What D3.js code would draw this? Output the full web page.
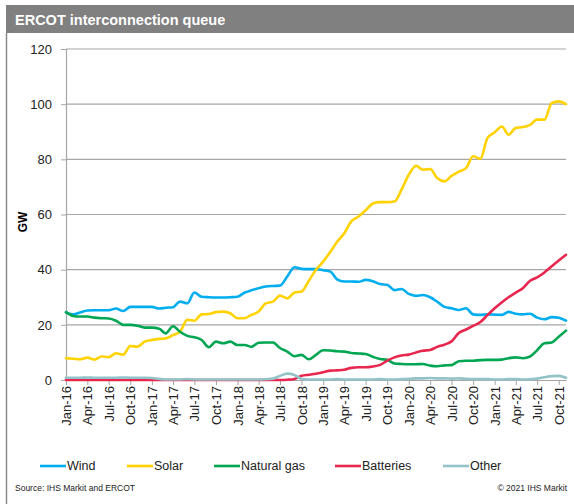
<!DOCTYPE html>
<html>
<head>
<meta charset="utf-8">
<script src="https://cdn.jsdelivr.net/npm/d3@7"></script>
<style>
  body { margin: 0; background: #fff; }
  text { font-family: Arial, 'Liberation Sans', sans-serif; }
</style>
</head>
<body>
<svg width="574" height="504"></svg>
<script>
// monthly values, Jan-16 .. Nov-21 (GW)
const wind = [24.5, 23.8, 24.5, 25.2, 25.3, 25.3, 25.3, 25.9, 25.0, 26.5, 26.5, 26.5,
  26.5, 25.9, 26.2, 26.4, 28.4, 27.8, 31.7, 30.2, 30.0, 29.9, 29.9, 30.0,
  30.2, 31.7, 32.5, 33.3, 33.9, 34.1, 34.2, 37.5, 40.9, 40.3, 40.2, 40.2,
  39.8, 39.3, 36.5, 35.7, 35.7, 35.6, 36.3, 35.8, 34.8, 34.5, 32.6, 33.0,
  31.2, 30.5, 30.8, 30.0, 28.4, 26.5, 26.0, 25.4, 26.0, 23.8, 23.6, 23.8,
  23.7, 23.6, 24.7, 24.0, 23.8, 24.0, 22.6, 22.0, 22.8, 22.6, 21.5];
const solar = [7.9, 7.7, 7.5, 8.1, 7.4, 8.5, 8.3, 9.7, 9.2, 12.3, 12.1, 13.9,
  14.5, 14.9, 15.1, 16.3, 17.5, 21.8, 21.5, 23.8, 23.9, 24.6, 24.8, 24.2,
  22.4, 22.4, 23.6, 24.8, 27.8, 28.4, 30.6, 29.6, 31.7, 32.1, 36.0, 39.9,
  42.9, 46.5, 50.0, 53.2, 57.5, 59.3, 61.5, 64.0, 64.5, 64.5, 64.7, 69.0,
  74.4, 77.7, 76.2, 76.5, 73.2, 72.0, 74.0, 75.5, 76.8, 81.1, 80.2, 87.7,
  89.8, 91.9, 88.9, 91.4, 91.7, 92.5, 94.4, 94.4, 100.4, 101.0, 100.0];
const naturalGas = [24.6, 23.2, 23.0, 23.0, 22.6, 22.4, 22.3, 21.5, 20.0, 20.0, 19.7, 19.0,
  19.0, 18.6, 16.9, 19.5, 17.5, 16.0, 15.5, 14.5, 11.9, 13.9, 13.3, 13.9,
  12.7, 12.7, 12.0, 13.5, 13.6, 13.6, 11.6, 10.3, 8.6, 9.1, 7.5, 9.1,
  10.8, 10.7, 10.4, 10.3, 9.8, 9.6, 9.4, 8.4, 7.6, 7.3, 6.0, 5.8,
  5.7, 5.7, 5.8, 5.2, 5.0, 5.3, 5.4, 6.8, 7.0, 7.0, 7.2, 7.3,
  7.3, 7.4, 7.9, 8.2, 7.9, 8.5, 10.8, 13.3, 13.6, 15.7, 17.9];
const batteries = [0, 0, 0, 0, 0, 0, 0, 0, 0, 0, 0, 0,
  0, 0, 0, 0, 0, 0, 0, 0, 0, 0, 0, 0,
  0, 0, 0, 0, 0, 0, 0, 0.1, 0.4, 1.5, 1.9, 2.3,
  2.8, 3.4, 3.5, 3.7, 4.4, 4.6, 4.6, 4.9, 5.5, 7.0, 8.2, 8.9,
  9.2, 10.0, 10.6, 10.9, 12.0, 12.8, 14.0, 17.0, 18.3, 19.6, 21.0, 23.5,
  26.0, 28.2, 30.0, 31.7, 33.3, 36.0, 37.2, 39.0, 41.2, 43.3, 45.4];
const other = [0.8, 0.8, 0.8, 0.9, 0.8, 0.8, 0.8, 0.8, 0.9, 0.8, 0.8, 0.8,
  0.7, 0.4, 0.2, 0.2, 0.2, 0.3, 0.2, 0.2, 0.2, 0.2, 0.2, 0.2,
  0.2, 0.2, 0.2, 0.2, 0.3, 0.5, 1.5, 2.3, 1.8, 0.4, 0.2, 0.2,
  0.2, 0.2, 0.3, 0.2, 0.2, 0.2, 0.2, 0.2, 0.3, 0.2, 0.2, 0.3,
  0.4, 0.6, 0.6, 0.7, 0.6, 0.6, 0.5, 0.6, 0.4, 0.3, 0.3, 0.3,
  0.2, 0.2, 0.3, 0.3, 0.2, 0.3, 0.5, 1.0, 1.4, 1.5, 0.8];

const seriesNames = ['Wind', 'Solar', 'Natural gas', 'Batteries', 'Other'];
const seriesColors = ['#00aeef', '#ffd200', '#00a651', '#e8274f', '#93c3c9'];
const yTicks = [0, 20, 40, 60, 80, 100, 120];
const xTickLabels = ['Jan-16', 'Apr-16', 'Jul-16', 'Oct-16', 'Jan-17', 'Apr-17', 'Jul-17', 'Oct-17',
  'Jan-18', 'Apr-18', 'Jul-18', 'Oct-18', 'Jan-19', 'Apr-19', 'Jul-19', 'Oct-19',
  'Jan-20', 'Apr-20', 'Jul-20', 'Oct-20', 'Jan-21', 'Apr-21', 'Jul-21', 'Oct-21'];

const allSeries = [wind, solar, naturalGas, batteries, other];
const months = d3.utcMonth.range(new Date(Date.UTC(2016, 0, 1)), new Date(Date.UTC(2021, 11, 1)));
const tickDates = months.filter((d, i) => i % 3 === 0);

const PLOT = { left: 66, right: 566, top: 49, bottom: 380 };

const svg = d3.select('svg');

// title bar + frame
svg.append('rect')
  .attr('x', 6).attr('y', 5).attr('width', 568).attr('height', 28)
  .attr('fill', '#808080');
svg.append('text')
  .attr('x', 15).attr('y', 24.5)
  .attr('fill', '#fff')
  .style('font-weight', 'bold')
  .style('font-size', '14.5px')
  .text('ERCOT interconnection queue');
svg.append('line')
  .attr('x1', 6.5).attr('x2', 6.5).attr('y1', 33).attr('y2', 504)
  .attr('stroke', '#8a8a8a').attr('stroke-width', 1.5);

const x = d3.scaleUtc()
  .domain([months[0], months[months.length - 1]])
  .range([PLOT.left, PLOT.right]);
const y = d3.scaleLinear().domain([0, 120]).range([PLOT.bottom, PLOT.top]);

// gridlines
svg.append('g')
  .selectAll('line')
  .data(yTicks.filter((d) => d > 0))
  .join('line')
  .attr('x1', PLOT.left).attr('x2', PLOT.right)
  .attr('y1', (d) => y(d)).attr('y2', (d) => y(d))
  .attr('stroke', '#a6a6a6').attr('stroke-width', 1.2);

// y axis
const yAxis = svg.append('g')
  .attr('transform', `translate(${PLOT.left}, 0)`)
  .call(d3.axisLeft(y).tickValues(yTicks).tickSize(5).tickPadding(9));
yAxis.select('.domain').attr('stroke', '#a6a6a6').attr('stroke-width', 1.2);
yAxis.selectAll('.tick line').attr('stroke', '#a6a6a6');
yAxis.selectAll('text').style('font-size', '13px').attr('fill', '#222');

svg.append('text')
  .attr('transform', 'translate(27, 222) rotate(-90)')
  .attr('text-anchor', 'middle')
  .style('font-weight', 'bold')
  .style('font-size', '12px')
  .text('GW');

// x axis
const xAxis = svg.append('g')
  .attr('transform', `translate(0, ${PLOT.bottom})`)
  .call(d3.axisBottom(x).tickValues(tickDates).tickSize(5).tickSizeOuter(0)
    .tickFormat((d, i) => xTickLabels[i]));
xAxis.select('.domain').attr('stroke', '#a6a6a6').attr('stroke-width', 1.2);
xAxis.selectAll('.tick line').attr('stroke', '#a6a6a6');
xAxis.selectAll('text')
  .style('font-size', '13px')
  .attr('fill', '#222')
  .attr('text-anchor', 'end')
  .attr('transform', 'rotate(-90)')
  .attr('x', -6)
  .attr('y', 0)
  .attr('dy', '0.35em');

// lines
const line = d3.line()
  .x((d, i) => x(months[i]))
  .y((d) => y(d))
  .curve(d3.curveMonotoneX);

svg.append('g')
  .selectAll('path')
  .data(allSeries)
  .join('path')
  .attr('d', line)
  .attr('fill', 'none')
  .attr('stroke', (d, i) => seriesColors[i])
  .attr('stroke-width', 2.6)
  .attr('stroke-linejoin', 'round')
  .attr('stroke-linecap', 'round');

// legend
const legendX = [40, 127, 214, 335, 443];
const legend = svg.append('g')
  .selectAll('g')
  .data(seriesNames)
  .join('g')
  .attr('transform', (d, i) => `translate(${legendX[i]}, 466)`);
legend.append('line')
  .attr('x1', 0).attr('x2', 26)
  .attr('stroke', (d, i) => seriesColors[i])
  .attr('stroke-width', 2.6);
legend.append('text')
  .attr('x', 27).attr('dy', '0.35em')
  .style('font-size', '12.5px')
  .attr('fill', '#222')
  .text((d) => d);

svg.append('text')
  .attr('x', 15).attr('y', 491)
  .style('font-size', '8.5px')
  .attr('fill', '#222')
  .text('Source: IHS Markit and ERCOT');
svg.append('text')
  .attr('x', 567).attr('y', 491)
  .attr('text-anchor', 'end')
  .style('font-size', '8.5px')
  .attr('fill', '#222')
  .text('© 2021 IHS Markit');
</script>
</body>
</html>
